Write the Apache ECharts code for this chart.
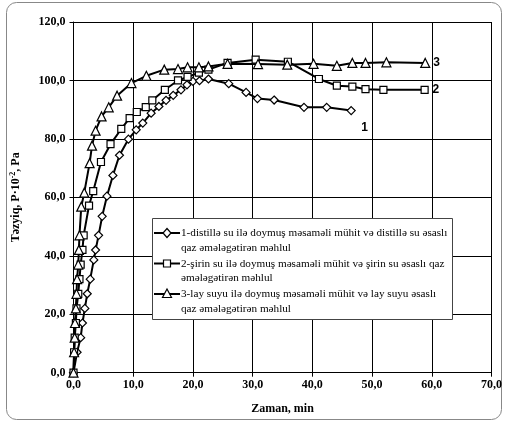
<!DOCTYPE html>
<html>
<head>
<meta charset="utf-8">
<script src="https://cdn.jsdelivr.net/npm/echarts@6/dist/echarts.min.js"></script>
<style>
  html, body { margin: 0; padding: 0; background: #fff; }
  #chart { width: 505px; height: 423px; }
</style>
</head>
<body>
<div id="chart"></div>
<script>
// Axis ticks
var xTicks = [0, 10, 20, 30, 40, 50, 60, 70];
var yTicks = [0, 20, 40, 60, 80, 100, 120];

// 1 - distilled water
var distTime = [0, 0.6, 1.2, 1.5, 1.9, 2.3, 2.8, 3.4, 3.7, 4.2, 4.8, 5.6, 6.6, 7.7, 9.2, 10.5, 11.6, 13.0, 14.3, 15.5, 16.7, 18.0, 19.0, 20.0, 21.1, 22.6, 26.0, 28.9, 30.8, 33.6, 38.6, 42.4, 46.5];
var distPressure = [0, 7, 12, 17, 22, 27, 32, 38.6, 42, 47, 53.5, 60.4, 67.5, 74.4, 79.9, 83.1, 85.4, 88.8, 91.1, 93.2, 94.9, 96.8, 98.5, 99.7, 99.9, 100.5, 98.9, 95.9, 93.8, 93.3, 90.8, 90.8, 89.7];

// 2 - fresh water
var freshTime = [0, 0.1, 0.2, 0.4, 0.5, 0.8, 1.0, 1.2, 1.5, 1.7, 2.6, 3.3, 4.6, 6.2, 8.0, 9.4, 10.6, 12.1, 13.2, 15.3, 17.5, 19.1, 21.0, 22.6, 25.8, 30.5, 35.9, 41.1, 44.1, 46.7, 48.9, 51.9, 58.8];
var freshPressure = [0, 7, 12, 17, 22, 27, 32, 37, 42, 47, 57.2, 62.1, 72.1, 78.2, 83.4, 87.1, 89.2, 90.9, 93.2, 96.8, 100.0, 101.2, 102.7, 103.7, 106.0, 107.1, 106.4, 100.5, 98.2, 97.9, 97.0, 96.8, 96.8];

// 3 - formation water
var layTime = [0, 0.1, 0.2, 0.25, 0.4, 0.5, 0.6, 0.8, 0.9, 1.0, 1.3, 1.8, 2.7, 3.1, 3.7, 4.7, 5.9, 7.3, 9.7, 12.2, 15.2, 17.5, 19.1, 21.0, 22.6, 25.8, 30.9, 35.8, 40.2, 44.1, 46.7, 48.9, 52.4, 58.9];
var layPressure = [0, 7, 12, 17, 22, 27, 32, 37, 42, 47, 56.8, 61.6, 71.7, 77.7, 82.8, 87.7, 90.8, 94.8, 99.1, 101.6, 103.7, 103.9, 104.5, 104.5, 104.8, 105.7, 105.6, 105.4, 105.7, 105.0, 106.0, 106.0, 106.2, 106.0];

var seriesNames = [
  '1-distillə su ilə doymuş məsaməli mühit və distillə su əsaslı\nqaz əmələgətirən məhlul',
  '2-şirin su ilə doymuş məsaməli mühit və şirin su əsaslı qaz\nəmələgətirən məhlul',
  '3-lay suyu ilə doymuş məsaməli mühit və lay suyu əsaslı\nqaz əmələgətirən məhlul'
];
var curveTags = ['1', '2', '3'];

function pairs(xs, ys) {
  return xs.map(function (x, i) { return [x, ys[i]]; });
}
function fmt(v) { return v.toFixed(1).replace('.', ','); }

var serifFont = '"Liberation Serif", "Times New Roman", serif';
var sansFont = '"Liberation Sans", Arial, sans-serif';

function makeSeries(name, data, symbol, size, tag, tagOffset) {
  return {
    name: name,
    type: 'line',
    data: data,
    symbol: symbol,
    symbolSize: size,
    showAllSymbol: true,
    lineStyle: { color: '#000', width: 2 },
    itemStyle: { color: '#fff', borderColor: '#000', borderWidth: 1.2 },
    animation: false,
    z: 3,
    endLabel: {
      show: true,
      formatter: tag,
      offset: tagOffset,
      fontFamily: sansFont,
      fontWeight: 'bold',
      fontSize: 12,
      color: '#000'
    }
  };
}

var chart = echarts.init(document.getElementById('chart'), null, { renderer: 'canvas' });

// legend drawn as a framed block with line+marker samples
var lgX = 152, lgY = 218, lgW = 300, lgH = 101;
var rowY = [233, 263.5, 294];
var markers = [
  { type: 'polygon', shape: { points: [[167, rowY[0] - 4.5], [171, rowY[0]], [167, rowY[0] + 4.5], [163, rowY[0]]] } },
  { type: 'rect', shape: { x: 163.5, y: rowY[1] - 3.5, width: 7, height: 7 } },
  { type: 'polygon', shape: { points: [[167, rowY[2] - 5], [171.5, rowY[2] + 3.5], [162.5, rowY[2] + 3.5]] } }
];
var legendEls = [{
  type: 'rect',
  shape: { x: lgX + 0.5, y: lgY + 0.5, width: lgW, height: lgH },
  style: { fill: '#fff', stroke: '#444', lineWidth: 1 },
  z: 10
}];
rowY.forEach(function (y, i) {
  legendEls.push({
    type: 'line',
    shape: { x1: 154, y1: y, x2: 180, y2: y },
    style: { stroke: '#000', lineWidth: 2 },
    z: 11
  });
  var m = markers[i];
  m.style = { fill: '#fff', stroke: '#000', lineWidth: 1.2 };
  m.z = 12;
  legendEls.push(m);
  legendEls.push({
    type: 'text',
    x: 181, y: y - 7,
    style: {
      text: seriesNames[i],
      font: '11.2px ' + serifFont,
      fill: '#000',
      lineHeight: 14.5,
      verticalAlign: 'top'
    },
    z: 12
  });
});

var option = {
  backgroundColor: '#fff',
  animation: false,
  grid: { left: 73.5, right: 9.5, top: 22, bottom: 50.3, containLabel: false },
  xAxis: {
    type: 'value',
    min: xTicks[0], max: xTicks[xTicks.length - 1], interval: 10,
    name: 'Zaman, min',
    nameLocation: 'middle',
    nameGap: 30,
    nameTextStyle: { fontFamily: serifFont, fontWeight: 'bold', fontSize: 12, color: '#000' },
    axisLine: { show: true, lineStyle: { color: '#000', width: 1 } },
    axisTick: { show: true, length: 4, lineStyle: { color: '#000' } },
    axisLabel: { formatter: fmt, fontFamily: serifFont, fontWeight: 'bold', fontSize: 12, color: '#000', margin: 6 },
    splitLine: { show: true, lineStyle: { color: '#000', width: 1 } }
  },
  yAxis: {
    type: 'value',
    min: yTicks[0], max: yTicks[yTicks.length - 1], interval: 20,
    name: 'Təzyiq, P·10{sup|-2}, Pa',
    nameLocation: 'middle',
    nameGap: 51,
    nameRotate: 90,
    nameTextStyle: {
      fontFamily: serifFont, fontWeight: 'bold', fontSize: 12, color: '#000',
      rich: { sup: { fontFamily: serifFont, fontWeight: 'bold', fontSize: 8, verticalAlign: 'top', padding: [0, 0, 6, 0], color: '#000' } }
    },
    axisLine: { show: true, lineStyle: { color: '#000', width: 1 } },
    axisTick: { show: true, length: 4, lineStyle: { color: '#000' } },
    axisLabel: { formatter: fmt, fontFamily: serifFont, fontWeight: 'bold', fontSize: 12, color: '#000', margin: 8 },
    splitLine: { show: true, lineStyle: { color: '#000', width: 1 } }
  },
  series: [
    makeSeries(seriesNames[0], pairs(distTime, distPressure), 'diamond', 8, curveTags[0], [2, 17]),
    makeSeries(seriesNames[1], pairs(freshTime, freshPressure), 'rect', 7, curveTags[1], [0, 0]),
    makeSeries(seriesNames[2], pairs(layTime, layPressure), 'triangle', 9, curveTags[2], [0, 0])
  ],
  graphic: [
    {
      type: 'rect',
      shape: { x: 6.5, y: 2.5, width: 495, height: 417, r: 10 },
      style: { fill: 'none', stroke: '#888', lineWidth: 1 },
      z: 0
    },
    { type: 'group', children: legendEls, z: 10 }
  ]
};
chart.setOption(option);
</script>
</body>
</html>
